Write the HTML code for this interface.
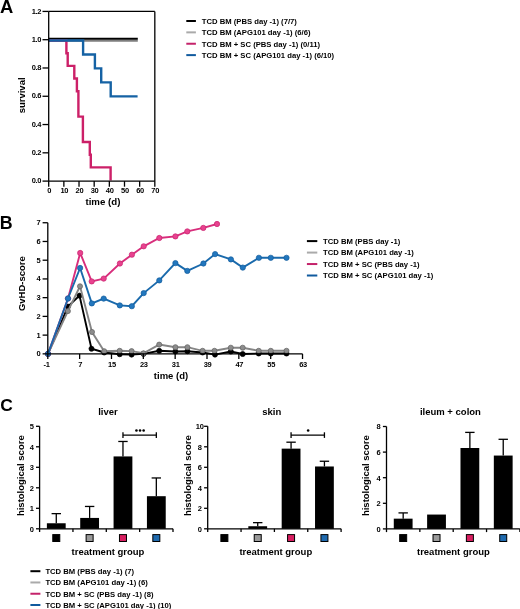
<!DOCTYPE html>
<html><head><meta charset="utf-8"><style>
html,body{margin:0;padding:0;background:#fff;width:520px;height:609px;overflow:hidden}
svg{display:block;will-change:transform;filter:blur(0.35px)}
text{font-family:"Liberation Sans",sans-serif;font-weight:bold;fill:#000}
</style></head><body>
<svg width="520" height="609" viewBox="0 0 520 609">
<text x="0.00" y="12.70" font-size="18.4" text-anchor="start" >A</text>
<text x="-0.20" y="229.00" font-size="17.8" text-anchor="start" >B</text>
<text x="0.30" y="410.90" font-size="17.4" text-anchor="start" >C</text>
<line x1="48.70" y1="40.70" x2="137.80" y2="40.70" stroke="#7e7e7e" stroke-width="2.0" />
<line x1="48.70" y1="38.70" x2="137.80" y2="38.70" stroke="#000" stroke-width="2.0" />
<polyline points="48.70,40.50 66.40,40.50 66.40,53.19 67.70,53.19 67.70,65.88 74.30,65.88 74.30,78.57 76.90,78.57 76.90,91.26 78.40,91.26 78.40,116.65 82.90,116.65 82.90,142.03 89.80,142.03 89.80,154.72 90.80,154.72 90.80,167.41 110.60,167.41 110.60,180.60" fill="none" stroke="#cc2068" stroke-width="2.4" stroke-linejoin="miter" />
<polyline points="48.70,40.50 83.10,40.50 83.10,54.46 94.90,54.46 94.90,68.42 101.20,68.42 101.20,82.38 110.70,82.38 110.70,96.34 137.60,96.34" fill="none" stroke="#1562a4" stroke-width="2.4" stroke-linejoin="miter" />
<line x1="48.70" y1="11.42" x2="48.70" y2="181.10" stroke="#000" stroke-width="1.3" />
<line x1="48.70" y1="181.10" x2="154.82" y2="181.10" stroke="#000" stroke-width="1.3" />
<line x1="48.70" y1="11.42" x2="154.82" y2="11.42" stroke="#000" stroke-width="1.3" />
<line x1="154.82" y1="11.42" x2="154.82" y2="181.10" stroke="#000" stroke-width="1.3" />
<line x1="42.50" y1="181.10" x2="48.70" y2="181.10" stroke="#000" stroke-width="1.3" />
<text x="41.20" y="183.20" font-size="7.5" text-anchor="end" letter-spacing="-0.3">0.0</text>
<line x1="42.50" y1="152.82" x2="48.70" y2="152.82" stroke="#000" stroke-width="1.3" />
<text x="41.20" y="154.92" font-size="7.5" text-anchor="end" letter-spacing="-0.3">0.2</text>
<line x1="42.50" y1="124.54" x2="48.70" y2="124.54" stroke="#000" stroke-width="1.3" />
<text x="41.20" y="126.64" font-size="7.5" text-anchor="end" letter-spacing="-0.3">0.4</text>
<line x1="42.50" y1="96.26" x2="48.70" y2="96.26" stroke="#000" stroke-width="1.3" />
<text x="41.20" y="98.36" font-size="7.5" text-anchor="end" letter-spacing="-0.3">0.6</text>
<line x1="42.50" y1="67.98" x2="48.70" y2="67.98" stroke="#000" stroke-width="1.3" />
<text x="41.20" y="70.08" font-size="7.5" text-anchor="end" letter-spacing="-0.3">0.8</text>
<line x1="42.50" y1="39.70" x2="48.70" y2="39.70" stroke="#000" stroke-width="1.3" />
<text x="41.20" y="41.80" font-size="7.5" text-anchor="end" letter-spacing="-0.3">1.0</text>
<line x1="42.50" y1="11.42" x2="48.70" y2="11.42" stroke="#000" stroke-width="1.3" />
<text x="41.20" y="13.52" font-size="7.5" text-anchor="end" letter-spacing="-0.3">1.2</text>
<line x1="48.70" y1="181.10" x2="48.70" y2="186.70" stroke="#000" stroke-width="1.3" />
<text x="49.10" y="193.10" font-size="7.5" text-anchor="middle" letter-spacing="-0.3">0</text>
<line x1="63.86" y1="181.10" x2="63.86" y2="186.70" stroke="#000" stroke-width="1.3" />
<text x="64.26" y="193.10" font-size="7.5" text-anchor="middle" letter-spacing="-0.3">10</text>
<line x1="79.02" y1="181.10" x2="79.02" y2="186.70" stroke="#000" stroke-width="1.3" />
<text x="79.42" y="193.10" font-size="7.5" text-anchor="middle" letter-spacing="-0.3">20</text>
<line x1="94.18" y1="181.10" x2="94.18" y2="186.70" stroke="#000" stroke-width="1.3" />
<text x="94.58" y="193.10" font-size="7.5" text-anchor="middle" letter-spacing="-0.3">30</text>
<line x1="109.34" y1="181.10" x2="109.34" y2="186.70" stroke="#000" stroke-width="1.3" />
<text x="109.74" y="193.10" font-size="7.5" text-anchor="middle" letter-spacing="-0.3">40</text>
<line x1="124.50" y1="181.10" x2="124.50" y2="186.70" stroke="#000" stroke-width="1.3" />
<text x="124.90" y="193.10" font-size="7.5" text-anchor="middle" letter-spacing="-0.3">50</text>
<line x1="139.66" y1="181.10" x2="139.66" y2="186.70" stroke="#000" stroke-width="1.3" />
<text x="140.06" y="193.10" font-size="7.5" text-anchor="middle" letter-spacing="-0.3">60</text>
<line x1="154.82" y1="181.10" x2="154.82" y2="186.70" stroke="#000" stroke-width="1.3" />
<text x="155.22" y="193.10" font-size="7.5" text-anchor="middle" letter-spacing="-0.3">70</text>
<text x="102.90" y="205.00" font-size="9.7" text-anchor="middle" >time (d)</text>
<text x="0.00" y="0.00" font-size="9.5" text-anchor="middle" transform="translate(25.3,95.4) rotate(-90)">survival</text>
<line x1="186.30" y1="21.00" x2="195.90" y2="21.00" stroke="#000" stroke-width="2" />
<text x="201.80" y="23.80" font-size="7.68" text-anchor="start" >TCD BM (PBS day -1) (7/7)</text>
<line x1="186.30" y1="32.37" x2="195.90" y2="32.37" stroke="#aaa" stroke-width="2" />
<text x="201.80" y="35.17" font-size="7.68" text-anchor="start" >TCD BM (APG101 day -1) (6/6)</text>
<line x1="186.30" y1="43.74" x2="195.90" y2="43.74" stroke="#c4226a" stroke-width="2" />
<text x="201.80" y="46.54" font-size="7.68" text-anchor="start" >TCD BM + SC (PBS day -1) (0/11)</text>
<line x1="186.30" y1="55.11" x2="195.90" y2="55.11" stroke="#105a9e" stroke-width="2" />
<text x="201.80" y="57.91" font-size="7.68" text-anchor="start" >TCD BM + SC (APG101 day -1) (6/10)</text>
<polyline points="48.00,353.85 67.90,306.60 79.50,295.60 91.50,348.70 104.20,352.50 119.70,354.20 131.60,354.60 143.50,353.85 159.20,350.80 175.40,351.50 187.40,351.20 202.60,352.50 215.00,354.60 230.80,351.50 242.70,354.00 258.70,353.50 270.80,353.50 286.50,353.50" fill="none" stroke="#000" stroke-width="1.9" stroke-linejoin="miter" stroke-linejoin="round"/>
<circle cx="48.00" cy="353.85" r="2.55" fill="#000" stroke="#000" stroke-width="0.7"/>
<circle cx="67.90" cy="306.60" r="2.55" fill="#000" stroke="#000" stroke-width="0.7"/>
<circle cx="79.50" cy="295.60" r="2.55" fill="#000" stroke="#000" stroke-width="0.7"/>
<circle cx="91.50" cy="348.70" r="2.55" fill="#000" stroke="#000" stroke-width="0.7"/>
<circle cx="104.20" cy="352.50" r="2.55" fill="#000" stroke="#000" stroke-width="0.7"/>
<circle cx="119.70" cy="354.20" r="2.55" fill="#000" stroke="#000" stroke-width="0.7"/>
<circle cx="131.60" cy="354.60" r="2.55" fill="#000" stroke="#000" stroke-width="0.7"/>
<circle cx="143.50" cy="353.85" r="2.55" fill="#000" stroke="#000" stroke-width="0.7"/>
<circle cx="159.20" cy="350.80" r="2.55" fill="#000" stroke="#000" stroke-width="0.7"/>
<circle cx="175.40" cy="351.50" r="2.55" fill="#000" stroke="#000" stroke-width="0.7"/>
<circle cx="187.40" cy="351.20" r="2.55" fill="#000" stroke="#000" stroke-width="0.7"/>
<circle cx="202.60" cy="352.50" r="2.55" fill="#000" stroke="#000" stroke-width="0.7"/>
<circle cx="215.00" cy="354.60" r="2.55" fill="#000" stroke="#000" stroke-width="0.7"/>
<circle cx="230.80" cy="351.50" r="2.55" fill="#000" stroke="#000" stroke-width="0.7"/>
<circle cx="242.70" cy="354.00" r="2.55" fill="#000" stroke="#000" stroke-width="0.7"/>
<circle cx="258.70" cy="353.50" r="2.55" fill="#000" stroke="#000" stroke-width="0.7"/>
<circle cx="270.80" cy="353.50" r="2.55" fill="#000" stroke="#000" stroke-width="0.7"/>
<circle cx="286.50" cy="353.50" r="2.55" fill="#000" stroke="#000" stroke-width="0.7"/>
<polyline points="48.00,353.85 67.90,311.10 80.00,286.30 92.00,332.00 104.20,351.20 119.70,350.80 131.60,351.10 143.50,353.30 159.20,344.60 175.40,347.20 187.40,347.20 202.60,350.80 214.50,350.80 230.80,347.70 242.70,347.70 258.70,350.80 270.80,350.80 286.50,350.80" fill="none" stroke="#858585" stroke-width="1.9" stroke-linejoin="miter" stroke-linejoin="round"/>
<circle cx="48.00" cy="353.85" r="2.55" fill="#8c8c8c" stroke="#606060" stroke-width="0.7"/>
<circle cx="67.90" cy="311.10" r="2.55" fill="#8c8c8c" stroke="#606060" stroke-width="0.7"/>
<circle cx="80.00" cy="286.30" r="2.55" fill="#8c8c8c" stroke="#606060" stroke-width="0.7"/>
<circle cx="92.00" cy="332.00" r="2.55" fill="#8c8c8c" stroke="#606060" stroke-width="0.7"/>
<circle cx="104.20" cy="351.20" r="2.55" fill="#8c8c8c" stroke="#606060" stroke-width="0.7"/>
<circle cx="119.70" cy="350.80" r="2.55" fill="#8c8c8c" stroke="#606060" stroke-width="0.7"/>
<circle cx="131.60" cy="351.10" r="2.55" fill="#8c8c8c" stroke="#606060" stroke-width="0.7"/>
<circle cx="143.50" cy="353.30" r="2.55" fill="#8c8c8c" stroke="#606060" stroke-width="0.7"/>
<circle cx="159.20" cy="344.60" r="2.55" fill="#8c8c8c" stroke="#606060" stroke-width="0.7"/>
<circle cx="175.40" cy="347.20" r="2.55" fill="#8c8c8c" stroke="#606060" stroke-width="0.7"/>
<circle cx="187.40" cy="347.20" r="2.55" fill="#8c8c8c" stroke="#606060" stroke-width="0.7"/>
<circle cx="202.60" cy="350.80" r="2.55" fill="#8c8c8c" stroke="#606060" stroke-width="0.7"/>
<circle cx="214.50" cy="350.80" r="2.55" fill="#8c8c8c" stroke="#606060" stroke-width="0.7"/>
<circle cx="230.80" cy="347.70" r="2.55" fill="#8c8c8c" stroke="#606060" stroke-width="0.7"/>
<circle cx="242.70" cy="347.70" r="2.55" fill="#8c8c8c" stroke="#606060" stroke-width="0.7"/>
<circle cx="258.70" cy="350.80" r="2.55" fill="#8c8c8c" stroke="#606060" stroke-width="0.7"/>
<circle cx="270.80" cy="350.80" r="2.55" fill="#8c8c8c" stroke="#606060" stroke-width="0.7"/>
<circle cx="286.50" cy="350.80" r="2.55" fill="#8c8c8c" stroke="#606060" stroke-width="0.7"/>
<polyline points="48.00,353.85 68.00,298.50 80.20,253.00 91.70,281.40 103.70,278.60 119.90,263.50 131.90,254.70 143.70,246.30 159.30,238.00 175.40,236.40 187.30,231.40 203.30,227.90 217.00,224.00" fill="none" stroke="#d82e7c" stroke-width="1.9" stroke-linejoin="miter" stroke-linejoin="round"/>
<circle cx="48.00" cy="353.85" r="2.65" fill="#e8428f" stroke="#c8246e" stroke-width="0.7"/>
<circle cx="68.00" cy="298.50" r="2.65" fill="#e8428f" stroke="#c8246e" stroke-width="0.7"/>
<circle cx="80.20" cy="253.00" r="2.65" fill="#e8428f" stroke="#c8246e" stroke-width="0.7"/>
<circle cx="91.70" cy="281.40" r="2.65" fill="#e8428f" stroke="#c8246e" stroke-width="0.7"/>
<circle cx="103.70" cy="278.60" r="2.65" fill="#e8428f" stroke="#c8246e" stroke-width="0.7"/>
<circle cx="119.90" cy="263.50" r="2.65" fill="#e8428f" stroke="#c8246e" stroke-width="0.7"/>
<circle cx="131.90" cy="254.70" r="2.65" fill="#e8428f" stroke="#c8246e" stroke-width="0.7"/>
<circle cx="143.70" cy="246.30" r="2.65" fill="#e8428f" stroke="#c8246e" stroke-width="0.7"/>
<circle cx="159.30" cy="238.00" r="2.65" fill="#e8428f" stroke="#c8246e" stroke-width="0.7"/>
<circle cx="175.40" cy="236.40" r="2.65" fill="#e8428f" stroke="#c8246e" stroke-width="0.7"/>
<circle cx="187.30" cy="231.40" r="2.65" fill="#e8428f" stroke="#c8246e" stroke-width="0.7"/>
<circle cx="203.30" cy="227.90" r="2.65" fill="#e8428f" stroke="#c8246e" stroke-width="0.7"/>
<circle cx="217.00" cy="224.00" r="2.65" fill="#e8428f" stroke="#c8246e" stroke-width="0.7"/>
<polyline points="48.00,353.85 68.00,298.50 80.10,268.00 91.80,303.40 103.70,298.60 119.80,305.40 131.80,306.20 143.70,293.10 159.30,280.40 175.40,263.10 187.30,270.90 203.40,263.50 215.10,254.10 230.90,259.40 242.80,267.60 258.90,257.80 270.80,257.80 286.50,257.80" fill="none" stroke="#1a6aac" stroke-width="1.9" stroke-linejoin="miter" stroke-linejoin="round"/>
<circle cx="48.00" cy="353.85" r="2.65" fill="#2277be" stroke="#125c9c" stroke-width="0.7"/>
<circle cx="68.00" cy="298.50" r="2.65" fill="#2277be" stroke="#125c9c" stroke-width="0.7"/>
<circle cx="80.10" cy="268.00" r="2.65" fill="#2277be" stroke="#125c9c" stroke-width="0.7"/>
<circle cx="91.80" cy="303.40" r="2.65" fill="#2277be" stroke="#125c9c" stroke-width="0.7"/>
<circle cx="103.70" cy="298.60" r="2.65" fill="#2277be" stroke="#125c9c" stroke-width="0.7"/>
<circle cx="119.80" cy="305.40" r="2.65" fill="#2277be" stroke="#125c9c" stroke-width="0.7"/>
<circle cx="131.80" cy="306.20" r="2.65" fill="#2277be" stroke="#125c9c" stroke-width="0.7"/>
<circle cx="143.70" cy="293.10" r="2.65" fill="#2277be" stroke="#125c9c" stroke-width="0.7"/>
<circle cx="159.30" cy="280.40" r="2.65" fill="#2277be" stroke="#125c9c" stroke-width="0.7"/>
<circle cx="175.40" cy="263.10" r="2.65" fill="#2277be" stroke="#125c9c" stroke-width="0.7"/>
<circle cx="187.30" cy="270.90" r="2.65" fill="#2277be" stroke="#125c9c" stroke-width="0.7"/>
<circle cx="203.40" cy="263.50" r="2.65" fill="#2277be" stroke="#125c9c" stroke-width="0.7"/>
<circle cx="215.10" cy="254.10" r="2.65" fill="#2277be" stroke="#125c9c" stroke-width="0.7"/>
<circle cx="230.90" cy="259.40" r="2.65" fill="#2277be" stroke="#125c9c" stroke-width="0.7"/>
<circle cx="242.80" cy="267.60" r="2.65" fill="#2277be" stroke="#125c9c" stroke-width="0.7"/>
<circle cx="258.90" cy="257.80" r="2.65" fill="#2277be" stroke="#125c9c" stroke-width="0.7"/>
<circle cx="270.80" cy="257.80" r="2.65" fill="#2277be" stroke="#125c9c" stroke-width="0.7"/>
<circle cx="286.50" cy="257.80" r="2.65" fill="#2277be" stroke="#125c9c" stroke-width="0.7"/>
<line x1="47.80" y1="222.74" x2="47.80" y2="353.85" stroke="#000" stroke-width="1.3" />
<line x1="47.80" y1="353.85" x2="302.52" y2="353.85" stroke="#000" stroke-width="1.3" />
<line x1="42.60" y1="353.85" x2="47.80" y2="353.85" stroke="#000" stroke-width="1.3" />
<text x="40.30" y="356.25" font-size="7.5" text-anchor="end" letter-spacing="-0.3">0</text>
<line x1="42.60" y1="335.12" x2="47.80" y2="335.12" stroke="#000" stroke-width="1.3" />
<text x="40.30" y="337.52" font-size="7.5" text-anchor="end" letter-spacing="-0.3">1</text>
<line x1="42.60" y1="316.39" x2="47.80" y2="316.39" stroke="#000" stroke-width="1.3" />
<text x="40.30" y="318.79" font-size="7.5" text-anchor="end" letter-spacing="-0.3">2</text>
<line x1="42.60" y1="297.66" x2="47.80" y2="297.66" stroke="#000" stroke-width="1.3" />
<text x="40.30" y="300.06" font-size="7.5" text-anchor="end" letter-spacing="-0.3">3</text>
<line x1="42.60" y1="278.93" x2="47.80" y2="278.93" stroke="#000" stroke-width="1.3" />
<text x="40.30" y="281.33" font-size="7.5" text-anchor="end" letter-spacing="-0.3">4</text>
<line x1="42.60" y1="260.20" x2="47.80" y2="260.20" stroke="#000" stroke-width="1.3" />
<text x="40.30" y="262.60" font-size="7.5" text-anchor="end" letter-spacing="-0.3">5</text>
<line x1="42.60" y1="241.47" x2="47.80" y2="241.47" stroke="#000" stroke-width="1.3" />
<text x="40.30" y="243.87" font-size="7.5" text-anchor="end" letter-spacing="-0.3">6</text>
<line x1="42.60" y1="222.74" x2="47.80" y2="222.74" stroke="#000" stroke-width="1.3" />
<text x="40.30" y="225.14" font-size="7.5" text-anchor="end" letter-spacing="-0.3">7</text>
<line x1="47.80" y1="353.85" x2="47.80" y2="359.00" stroke="#000" stroke-width="1.3" />
<text x="46.60" y="366.60" font-size="7.5" text-anchor="middle" letter-spacing="-0.3">-1</text>
<line x1="79.64" y1="353.85" x2="79.64" y2="359.00" stroke="#000" stroke-width="1.3" />
<text x="80.14" y="366.60" font-size="7.5" text-anchor="middle" letter-spacing="-0.3">7</text>
<line x1="111.48" y1="353.85" x2="111.48" y2="359.00" stroke="#000" stroke-width="1.3" />
<text x="111.98" y="366.60" font-size="7.5" text-anchor="middle" letter-spacing="-0.3">15</text>
<line x1="143.32" y1="353.85" x2="143.32" y2="359.00" stroke="#000" stroke-width="1.3" />
<text x="143.82" y="366.60" font-size="7.5" text-anchor="middle" letter-spacing="-0.3">23</text>
<line x1="175.16" y1="353.85" x2="175.16" y2="359.00" stroke="#000" stroke-width="1.3" />
<text x="175.66" y="366.60" font-size="7.5" text-anchor="middle" letter-spacing="-0.3">31</text>
<line x1="207.00" y1="353.85" x2="207.00" y2="359.00" stroke="#000" stroke-width="1.3" />
<text x="207.50" y="366.60" font-size="7.5" text-anchor="middle" letter-spacing="-0.3">39</text>
<line x1="238.84" y1="353.85" x2="238.84" y2="359.00" stroke="#000" stroke-width="1.3" />
<text x="239.34" y="366.60" font-size="7.5" text-anchor="middle" letter-spacing="-0.3">47</text>
<line x1="270.68" y1="353.85" x2="270.68" y2="359.00" stroke="#000" stroke-width="1.3" />
<text x="271.18" y="366.60" font-size="7.5" text-anchor="middle" letter-spacing="-0.3">55</text>
<line x1="302.52" y1="353.85" x2="302.52" y2="359.00" stroke="#000" stroke-width="1.3" />
<text x="303.02" y="366.60" font-size="7.5" text-anchor="middle" letter-spacing="-0.3">63</text>
<text x="171.00" y="379.00" font-size="9.5" text-anchor="middle" >time (d)</text>
<text x="0.00" y="0.00" font-size="9.5" text-anchor="middle" transform="translate(25.2,283.6) rotate(-90)">GvHD-score</text>
<line x1="306.90" y1="241.10" x2="317.30" y2="241.10" stroke="#000" stroke-width="2" />
<text x="323.10" y="243.90" font-size="7.68" text-anchor="start" >TCD BM (PBS day -1)</text>
<line x1="306.90" y1="252.57" x2="317.30" y2="252.57" stroke="#aaa" stroke-width="2" />
<text x="323.10" y="255.37" font-size="7.68" text-anchor="start" >TCD BM (APG101 day -1)</text>
<line x1="306.90" y1="264.04" x2="317.30" y2="264.04" stroke="#c4226a" stroke-width="2" />
<text x="323.10" y="266.84" font-size="7.68" text-anchor="start" >TCD BM + SC (PBS day -1)</text>
<line x1="306.90" y1="275.51" x2="317.30" y2="275.51" stroke="#105a9e" stroke-width="2" />
<text x="323.10" y="278.31" font-size="7.68" text-anchor="start" >TCD BM + SC (APG101 day -1)</text>
<line x1="56.28" y1="523.26" x2="56.28" y2="513.63" stroke="#000" stroke-width="1.3" />
<line x1="51.58" y1="513.63" x2="60.98" y2="513.63" stroke="#000" stroke-width="1.3" />
<rect x="46.88" y="523.26" width="18.80" height="5.54" fill="#000" stroke="none" stroke-width="0"/>
<line x1="89.62" y1="517.93" x2="89.62" y2="506.45" stroke="#000" stroke-width="1.3" />
<line x1="84.92" y1="506.45" x2="94.33" y2="506.45" stroke="#000" stroke-width="1.3" />
<rect x="80.22" y="517.93" width="18.80" height="10.87" fill="#000" stroke="none" stroke-width="0"/>
<line x1="122.97" y1="456.43" x2="122.97" y2="441.47" stroke="#000" stroke-width="1.3" />
<line x1="118.27" y1="441.47" x2="127.67" y2="441.47" stroke="#000" stroke-width="1.3" />
<rect x="113.57" y="456.43" width="18.80" height="72.36" fill="#000" stroke="none" stroke-width="0"/>
<line x1="156.33" y1="496.20" x2="156.33" y2="477.96" stroke="#000" stroke-width="1.3" />
<line x1="151.63" y1="477.96" x2="161.03" y2="477.96" stroke="#000" stroke-width="1.3" />
<rect x="146.93" y="496.20" width="18.80" height="32.59" fill="#000" stroke="none" stroke-width="0"/>
<line x1="39.60" y1="426.30" x2="39.60" y2="528.80" stroke="#000" stroke-width="1.3" />
<line x1="39.60" y1="528.80" x2="173.00" y2="528.80" stroke="#000" stroke-width="1.3" />
<line x1="36.00" y1="528.80" x2="39.60" y2="528.80" stroke="#000" stroke-width="1.3" />
<text x="31.60" y="531.70" font-size="7.5" text-anchor="middle" letter-spacing="-0.3">0</text>
<line x1="36.00" y1="508.30" x2="39.60" y2="508.30" stroke="#000" stroke-width="1.3" />
<text x="31.60" y="511.20" font-size="7.5" text-anchor="middle" letter-spacing="-0.3">1</text>
<line x1="36.00" y1="487.80" x2="39.60" y2="487.80" stroke="#000" stroke-width="1.3" />
<text x="31.60" y="490.70" font-size="7.5" text-anchor="middle" letter-spacing="-0.3">2</text>
<line x1="36.00" y1="467.30" x2="39.60" y2="467.30" stroke="#000" stroke-width="1.3" />
<text x="31.60" y="470.20" font-size="7.5" text-anchor="middle" letter-spacing="-0.3">3</text>
<line x1="36.00" y1="446.80" x2="39.60" y2="446.80" stroke="#000" stroke-width="1.3" />
<text x="31.60" y="449.70" font-size="7.5" text-anchor="middle" letter-spacing="-0.3">4</text>
<line x1="36.00" y1="426.30" x2="39.60" y2="426.30" stroke="#000" stroke-width="1.3" />
<text x="31.60" y="429.20" font-size="7.5" text-anchor="middle" letter-spacing="-0.3">5</text>
<line x1="39.60" y1="528.80" x2="39.60" y2="532.00" stroke="#000" stroke-width="1.3" />
<line x1="72.95" y1="528.80" x2="72.95" y2="532.00" stroke="#000" stroke-width="1.3" />
<line x1="106.30" y1="528.80" x2="106.30" y2="532.00" stroke="#000" stroke-width="1.3" />
<line x1="139.65" y1="528.80" x2="139.65" y2="532.00" stroke="#000" stroke-width="1.3" />
<line x1="173.00" y1="528.80" x2="173.00" y2="532.00" stroke="#000" stroke-width="1.3" />
<rect x="52.78" y="534.60" width="7.00" height="6.90" fill="#000" stroke="#000" stroke-width="1.0"/>
<rect x="86.12" y="534.60" width="7.00" height="6.90" fill="#9a9a9a" stroke="#000" stroke-width="1.0"/>
<rect x="119.47" y="534.60" width="7.00" height="6.90" fill="#d81e60" stroke="#000" stroke-width="1.0"/>
<rect x="152.83" y="534.60" width="7.00" height="6.90" fill="#1f6aae" stroke="#000" stroke-width="1.0"/>
<text x="108.00" y="415.30" font-size="9.5" text-anchor="middle" >liver</text>
<text x="108.00" y="554.70" font-size="9.5" text-anchor="middle" >treatment group</text>
<text x="0.00" y="0.00" font-size="9.5" text-anchor="middle" transform="translate(23.8,475.7) rotate(-90)">histological score</text>
<line x1="122.97" y1="435.20" x2="156.33" y2="435.20" stroke="#000" stroke-width="1.3" />
<line x1="122.97" y1="432.30" x2="122.97" y2="437.90" stroke="#000" stroke-width="1.3" />
<line x1="156.33" y1="432.30" x2="156.33" y2="437.90" stroke="#000" stroke-width="1.3" />
<circle cx="136.45" cy="430.50" r="1.3" fill="#000" stroke="none" stroke-width="0"/>
<circle cx="140.05" cy="430.50" r="1.3" fill="#000" stroke="none" stroke-width="0"/>
<circle cx="143.65" cy="430.50" r="1.3" fill="#000" stroke="none" stroke-width="0"/>
<rect x="214.97" y="528.80" width="18.80" height="0.00" fill="#000" stroke="none" stroke-width="0"/>
<line x1="257.73" y1="526.24" x2="257.73" y2="522.65" stroke="#000" stroke-width="1.3" />
<line x1="253.03" y1="522.65" x2="262.43" y2="522.65" stroke="#000" stroke-width="1.3" />
<rect x="248.33" y="526.24" width="18.80" height="2.56" fill="#000" stroke="none" stroke-width="0"/>
<line x1="291.07" y1="448.64" x2="291.07" y2="442.19" stroke="#000" stroke-width="1.3" />
<line x1="286.38" y1="442.19" x2="295.77" y2="442.19" stroke="#000" stroke-width="1.3" />
<rect x="281.68" y="448.64" width="18.80" height="80.16" fill="#000" stroke="none" stroke-width="0"/>
<line x1="324.43" y1="466.48" x2="324.43" y2="461.25" stroke="#000" stroke-width="1.3" />
<line x1="319.73" y1="461.25" x2="329.12" y2="461.25" stroke="#000" stroke-width="1.3" />
<rect x="315.03" y="466.48" width="18.80" height="62.32" fill="#000" stroke="none" stroke-width="0"/>
<line x1="207.70" y1="426.30" x2="207.70" y2="528.80" stroke="#000" stroke-width="1.3" />
<line x1="207.70" y1="528.80" x2="341.10" y2="528.80" stroke="#000" stroke-width="1.3" />
<line x1="204.10" y1="528.80" x2="207.70" y2="528.80" stroke="#000" stroke-width="1.3" />
<text x="199.70" y="531.70" font-size="7.5" text-anchor="middle" letter-spacing="-0.3">0</text>
<line x1="204.10" y1="508.30" x2="207.70" y2="508.30" stroke="#000" stroke-width="1.3" />
<text x="199.70" y="511.20" font-size="7.5" text-anchor="middle" letter-spacing="-0.3">2</text>
<line x1="204.10" y1="487.80" x2="207.70" y2="487.80" stroke="#000" stroke-width="1.3" />
<text x="199.70" y="490.70" font-size="7.5" text-anchor="middle" letter-spacing="-0.3">4</text>
<line x1="204.10" y1="467.30" x2="207.70" y2="467.30" stroke="#000" stroke-width="1.3" />
<text x="199.70" y="470.20" font-size="7.5" text-anchor="middle" letter-spacing="-0.3">6</text>
<line x1="204.10" y1="446.80" x2="207.70" y2="446.80" stroke="#000" stroke-width="1.3" />
<text x="199.70" y="449.70" font-size="7.5" text-anchor="middle" letter-spacing="-0.3">8</text>
<line x1="204.10" y1="426.30" x2="207.70" y2="426.30" stroke="#000" stroke-width="1.3" />
<text x="199.70" y="429.20" font-size="7.5" text-anchor="middle" letter-spacing="-0.3">10</text>
<line x1="207.70" y1="528.80" x2="207.70" y2="532.00" stroke="#000" stroke-width="1.3" />
<line x1="241.05" y1="528.80" x2="241.05" y2="532.00" stroke="#000" stroke-width="1.3" />
<line x1="274.40" y1="528.80" x2="274.40" y2="532.00" stroke="#000" stroke-width="1.3" />
<line x1="307.75" y1="528.80" x2="307.75" y2="532.00" stroke="#000" stroke-width="1.3" />
<line x1="341.10" y1="528.80" x2="341.10" y2="532.00" stroke="#000" stroke-width="1.3" />
<rect x="220.88" y="534.60" width="7.00" height="6.90" fill="#000" stroke="#000" stroke-width="1.0"/>
<rect x="254.23" y="534.60" width="7.00" height="6.90" fill="#9a9a9a" stroke="#000" stroke-width="1.0"/>
<rect x="287.57" y="534.60" width="7.00" height="6.90" fill="#d81e60" stroke="#000" stroke-width="1.0"/>
<rect x="320.93" y="534.60" width="7.00" height="6.90" fill="#1f6aae" stroke="#000" stroke-width="1.0"/>
<text x="271.70" y="415.30" font-size="9.5" text-anchor="middle" >skin</text>
<text x="275.80" y="554.70" font-size="9.5" text-anchor="middle" >treatment group</text>
<text x="0.00" y="0.00" font-size="9.5" text-anchor="middle" transform="translate(190.8,475.7) rotate(-90)">histological score</text>
<line x1="291.07" y1="435.20" x2="324.43" y2="435.20" stroke="#000" stroke-width="1.3" />
<line x1="291.07" y1="432.30" x2="291.07" y2="437.90" stroke="#000" stroke-width="1.3" />
<line x1="324.43" y1="432.30" x2="324.43" y2="437.90" stroke="#000" stroke-width="1.3" />
<circle cx="308.15" cy="430.50" r="1.3" fill="#000" stroke="none" stroke-width="0"/>
<line x1="403.18" y1="518.66" x2="403.18" y2="512.90" stroke="#000" stroke-width="1.3" />
<line x1="398.48" y1="512.90" x2="407.88" y2="512.90" stroke="#000" stroke-width="1.3" />
<rect x="393.78" y="518.66" width="18.80" height="10.24" fill="#000" stroke="none" stroke-width="0"/>
<rect x="427.12" y="514.56" width="18.80" height="14.34" fill="#000" stroke="none" stroke-width="0"/>
<line x1="469.88" y1="448.00" x2="469.88" y2="432.39" stroke="#000" stroke-width="1.3" />
<line x1="465.18" y1="432.39" x2="474.57" y2="432.39" stroke="#000" stroke-width="1.3" />
<rect x="460.48" y="448.00" width="18.80" height="80.90" fill="#000" stroke="none" stroke-width="0"/>
<line x1="503.23" y1="455.56" x2="503.23" y2="439.30" stroke="#000" stroke-width="1.3" />
<line x1="498.53" y1="439.30" x2="507.93" y2="439.30" stroke="#000" stroke-width="1.3" />
<rect x="493.83" y="455.56" width="18.80" height="73.34" fill="#000" stroke="none" stroke-width="0"/>
<line x1="386.50" y1="426.50" x2="386.50" y2="528.90" stroke="#000" stroke-width="1.3" />
<line x1="386.50" y1="528.90" x2="519.90" y2="528.90" stroke="#000" stroke-width="1.3" />
<line x1="382.90" y1="528.90" x2="386.50" y2="528.90" stroke="#000" stroke-width="1.3" />
<text x="378.50" y="531.80" font-size="7.5" text-anchor="middle" letter-spacing="-0.3">0</text>
<line x1="382.90" y1="503.30" x2="386.50" y2="503.30" stroke="#000" stroke-width="1.3" />
<text x="378.50" y="506.20" font-size="7.5" text-anchor="middle" letter-spacing="-0.3">2</text>
<line x1="382.90" y1="477.70" x2="386.50" y2="477.70" stroke="#000" stroke-width="1.3" />
<text x="378.50" y="480.60" font-size="7.5" text-anchor="middle" letter-spacing="-0.3">4</text>
<line x1="382.90" y1="452.10" x2="386.50" y2="452.10" stroke="#000" stroke-width="1.3" />
<text x="378.50" y="455.00" font-size="7.5" text-anchor="middle" letter-spacing="-0.3">6</text>
<line x1="382.90" y1="426.50" x2="386.50" y2="426.50" stroke="#000" stroke-width="1.3" />
<text x="378.50" y="429.40" font-size="7.5" text-anchor="middle" letter-spacing="-0.3">8</text>
<line x1="386.50" y1="528.90" x2="386.50" y2="532.10" stroke="#000" stroke-width="1.3" />
<line x1="419.85" y1="528.90" x2="419.85" y2="532.10" stroke="#000" stroke-width="1.3" />
<line x1="453.20" y1="528.90" x2="453.20" y2="532.10" stroke="#000" stroke-width="1.3" />
<line x1="486.55" y1="528.90" x2="486.55" y2="532.10" stroke="#000" stroke-width="1.3" />
<line x1="519.90" y1="528.90" x2="519.90" y2="532.10" stroke="#000" stroke-width="1.3" />
<rect x="399.68" y="534.60" width="7.00" height="6.90" fill="#000" stroke="#000" stroke-width="1.0"/>
<rect x="433.02" y="534.60" width="7.00" height="6.90" fill="#9a9a9a" stroke="#000" stroke-width="1.0"/>
<rect x="466.38" y="534.60" width="7.00" height="6.90" fill="#d81e60" stroke="#000" stroke-width="1.0"/>
<rect x="499.73" y="534.60" width="7.00" height="6.90" fill="#1f6aae" stroke="#000" stroke-width="1.0"/>
<text x="450.40" y="415.30" font-size="9.5" text-anchor="middle" >ileum + colon</text>
<text x="453.40" y="554.70" font-size="9.5" text-anchor="middle" >treatment group</text>
<text x="0.00" y="0.00" font-size="9.5" text-anchor="middle" transform="translate(369.2,475.7) rotate(-90)">histological score</text>
<line x1="30.40" y1="571.20" x2="40.40" y2="571.20" stroke="#000" stroke-width="2" />
<text x="45.40" y="574.00" font-size="7.68" text-anchor="start" >TCD BM (PBS day -1) (7)</text>
<line x1="30.40" y1="582.47" x2="40.40" y2="582.47" stroke="#aaa" stroke-width="2" />
<text x="45.40" y="585.27" font-size="7.68" text-anchor="start" >TCD BM (APG101 day -1) (6)</text>
<line x1="30.40" y1="593.74" x2="40.40" y2="593.74" stroke="#c4226a" stroke-width="2" />
<text x="45.40" y="596.54" font-size="7.68" text-anchor="start" >TCD BM + SC (PBS day -1) (8)</text>
<line x1="30.40" y1="605.01" x2="40.40" y2="605.01" stroke="#105a9e" stroke-width="2" />
<text x="45.40" y="607.81" font-size="7.68" text-anchor="start" >TCD BM + SC (APG101 day -1) (10)</text>
</svg>
</body></html>
